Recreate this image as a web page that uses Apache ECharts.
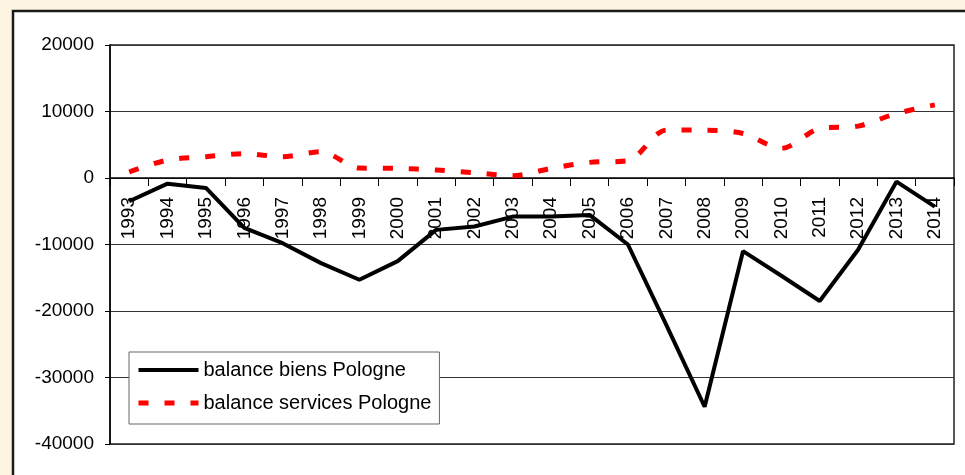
<!DOCTYPE html>
<html>
<head>
<meta charset="utf-8">
<script src="https://cdn.jsdelivr.net/npm/echarts@6/dist/echarts.min.js"></script>
<style>
html,body{margin:0;padding:0;background:#FDF5E2;}
#c{width:965px;height:475px;}
</style>
</head>
<body>
<div id="c"></div>
<script>
var years = ['1993','1994','1995','1996','1997','1998','1999','2000','2001','2002','2003','2004','2005','2006','2007','2008','2009','2010','2011','2012','2013','2014'];
var biens = [-3500,-850,-1500,-7500,-9800,-12800,-15300,-12500,-7800,-7300,-5800,-5800,-5550,-10000,-22100,-34400,-11000,-14700,-18500,-10800,-550,-4300];
var services = [900,2700,3200,3650,3200,3950,1500,1450,1200,800,350,1450,2350,2600,7200,7200,6700,4450,7450,7800,9700,11000];
var seriesNames = ['balance biens Pologne','balance services Pologne'];
var yMin = -40000, yMax = 20000, yStep = 10000;

var FONT = '"Liberation Sans", Arial, sans-serif';
var chart = echarts.init(document.getElementById('c'), null, {renderer:'canvas'});
chart.setOption({
  backgroundColor: '#FDF5E2',
  animation: false,
  graphic: [{
    type: 'rect', z: -10,
    shape: {x: 13, y: 11, width: 980, height: 500},
    style: {fill: '#ffffff', stroke: '#1a1a1a', lineWidth: 2.5}
  }],
  grid: {
    left: 110, top: 45, right: 11, bottom: 31,
    outerBoundsMode: 'none', containLabel: false,
    show: true, borderColor: '#222', borderWidth: 1.5, backgroundColor: 'transparent'
  },
  legend: {
    left: 129, top: 352, orient: 'vertical',
    itemWidth: 60, itemHeight: 14, itemGap: 11,
    padding: [7, 8, 10, 7],
    backgroundColor: '#fff', borderColor: '#666', borderWidth: 1, borderRadius: 0,
    textStyle: {fontSize: 20, lineHeight: 22, color: '#000', fontFamily: FONT},
    itemStyle: {opacity: 0},
    lineStyle: {width: 'inherit', type: 'inherit', opacity: 1},
    data: seriesNames
  },
  xAxis: {
    type: 'category', data: years, boundaryGap: true,
    axisLine: {onZero: false, lineStyle: {color: '#000', width: 1.5}},
    axisTick: {show: true, length: 8, lineStyle: {color: '#000', width: 1}},
    axisLabel: {rotate: 90, margin: 19, fontSize: 19, color: '#000', fontFamily: FONT, interval: 0, hideOverlap: false},
    splitLine: {show: false}
  },
  yAxis: {
    type: 'value', min: yMin, max: yMax, interval: yStep,
    axisLine: {show: true, lineStyle: {color: '#000', width: 1.5}},
    axisTick: {show: true, length: 5, lineStyle: {color: '#000'}},
    axisLabel: {margin: 16, fontSize: 19, color: '#000', fontFamily: FONT, formatter: function(v){ return String(v); }},
    splitLine: {show: true, lineStyle: {color: '#333', width: 1}}
  },
  series: [{
    name: seriesNames[0], type: 'line', data: biens,
    symbol: 'none', showSymbol: false, z: 3,
    lineStyle: {color: '#000', width: 4},
    itemStyle: {color: '#000'}
  }, {
    name: seriesNames[1], type: 'line', data: services,
    symbol: 'none', showSymbol: false, smooth: 0.3, z: 3,
    lineStyle: {color: '#ff0000', width: 5, type: [10, 16]},
    itemStyle: {color: '#ff0000'}
  }]
});
// place the category axis on the zero line (through the value axis scale)
var yZero = chart.convertToPixel({yAxisIndex: 0}, 0);
var yBottom = chart.convertToPixel({yAxisIndex: 0}, yMin);
chart.setOption({xAxis: {offset: yZero - yBottom}});
</script>
</body>
</html>
